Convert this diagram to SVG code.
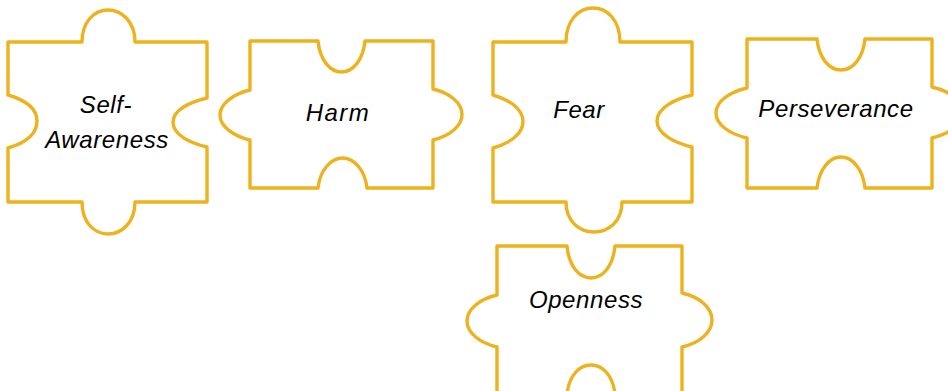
<svg xmlns="http://www.w3.org/2000/svg" width="948" height="391" viewBox="0 0 948 391">
<style>
.pc{fill:#ffffff;stroke:#EDB31E;stroke-width:3.4;stroke-linejoin:round}
.lb{font-family:"Liberation Sans",Arial,sans-serif;font-style:italic;font-size:24px;fill:#000000;letter-spacing:0.6px;text-anchor:middle}
</style>
<rect width="948" height="391" fill="#ffffff"/>
<g id="connectors"></g>
<g id="self-awareness">
<path class="pc" d="M8,42 L82,42 C82,22 94,10 108,10 C122,10 135,22 135,42 L207,42 L207,98 C190,102 173,110 173,122 C173,135 190,143 207,147 L207,202 L135,202 C135,222 122,234 108,234 C94,234 82,222 82,202 L8,202 L8,148 C25,143 37,134 37,121 C37,108 25,100 8,95 Z"/>
<text class="lb" x="106" y="113">Self-</text>
<text class="lb" x="107" y="148">Awareness</text>
</g>
<g id="harm">
<path class="pc" d="M250,41 L318,41 C320,60 330,72 341.5,72 C353,72 363,60 365,41 L433,41 L433,89 C450,93 462,103 462,114.5 C462,126 450,136 433,140 L433,188 L367,188 C365,170 354,158 342.5,158 C331,158 320,170 318,188 L250,188 L250,140 C233,136 220,126 220,115 C220,104 233,94 250,90 Z"/>
<text class="lb" x="338" y="121" style="letter-spacing:1.4px">Harm</text>
</g>
<g id="fear">
<path class="pc" d="M493,42 L566,42 C566,20 579,8 593,8 C607,8 620,20 620,42 L692,42 L692,95 C675,99 657,108 657,121 C657,134 675,143 692,147 L692,202 L622,202 C622,222 608,232 594,232 C580,232 566,222 566,202 L493,202 L493,148 C510,143 523,134 523,121.5 C523,109 510,100 493,95 Z"/>
<text class="lb" x="579" y="118">Fear</text>
</g>
<g id="perseverance">
<path class="pc" d="M747,39 L817,39 C819,58 829,70 841,70 C853,70 863,58 865,39 L932,39 L932,87 C950,91 962,101 962,112.5 C962,124 950,134 932,138 L932,188 L865,188 C863,170 853,157 841,157 C829,157 819,170 817,188 L747,188 L747,138 C730,134 716,125 716,113 C716,101 730,92 747,88 Z"/>
<text class="lb" x="836" y="117">Perseverance</text>
</g>
<g id="openness">
<path class="pc" d="M497,246 L567,246 C569,266 579,278 591,278 C603,278 613,266 615,246 L682,246 L682,293 C700,297 712,308 712,320 C712,332 700,343 682,347 L682,394 L615,394 C613,376 603,365 591,365 C579,365 569,376 567,394 L497,394 L497,347 C480,343 467,333 467,321 C467,309 480,299 497,295 Z"/>
<text class="lb" x="586" y="308">Openness</text>
</g>
</svg>
